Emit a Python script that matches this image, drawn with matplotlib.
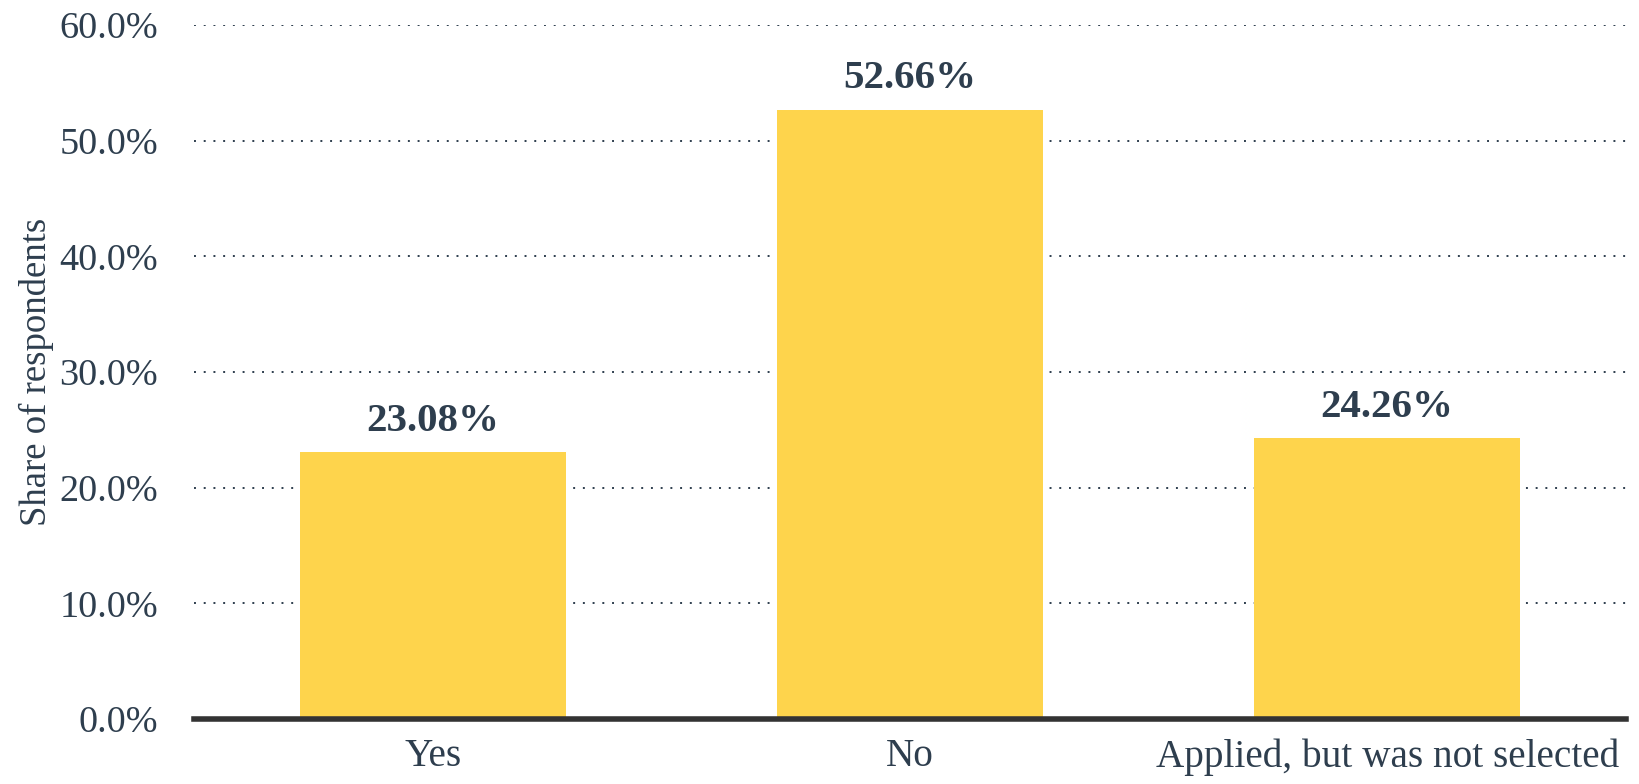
import matplotlib
matplotlib.use("Agg")
import matplotlib.pyplot as plt
from matplotlib.ticker import FuncFormatter

categories = ["Yes", "No", "Applied, but was not selected"]
shares = [23.08, 52.66, 24.26]
yticks = [0, 10, 20, 30, 40, 50, 60]

text_color = "#2e3e4e"
bar_color = "#fed44c"

plt.rcParams["font.family"] = ["Liberation Serif", "DejaVu Serif"]

fig = plt.figure(figsize=(16.39, 7.84), dpi=100)
ax = fig.add_axes([0.1184, 0.0829, 0.8736, 0.8853])

x = list(range(len(categories)))
bars = ax.bar(x, shares, width=0.558, color=bar_color, zorder=2)

for xi, v in zip(x, shares):
    ax.annotate(f"{v:.2f}%", (xi, v), xytext=(0, 9), textcoords="offset points",
                ha="center", va="bottom", fontsize=29.5, fontweight="bold", color=text_color)

ax.set_xlim(-0.5, 2.5)
ax.set_ylim(0, 60)
ax.set_yticks(yticks)
ax.yaxis.set_major_formatter(FuncFormatter(lambda v, p: f"{v:.1f}%"))
ax.set_xticks(x)
ax.set_xticklabels(categories)

ax.tick_params(axis="y", length=0, pad=26, labelsize=27.5, labelcolor=text_color)
ax.tick_params(axis="x", length=0, pad=14, labelsize=28.3, labelcolor=text_color)

ax.grid(axis="y", linestyle=(0, (1, 4)), color=text_color, linewidth=1.4, zorder=0)
ax.set_axisbelow(True)

for s in ["top", "right", "left"]:
    ax.spines[s].set_visible(False)
ax.spines["bottom"].set_color("#333333")
ax.spines["bottom"].set_linewidth(4)
ax.spines["bottom"].set_zorder(3)

ax.set_ylabel("Share of respondents", fontsize=26.5, color=text_color)
ax.yaxis.set_label_coords(-0.098, 0.5)

fig.savefig("out.png", dpi=100)
